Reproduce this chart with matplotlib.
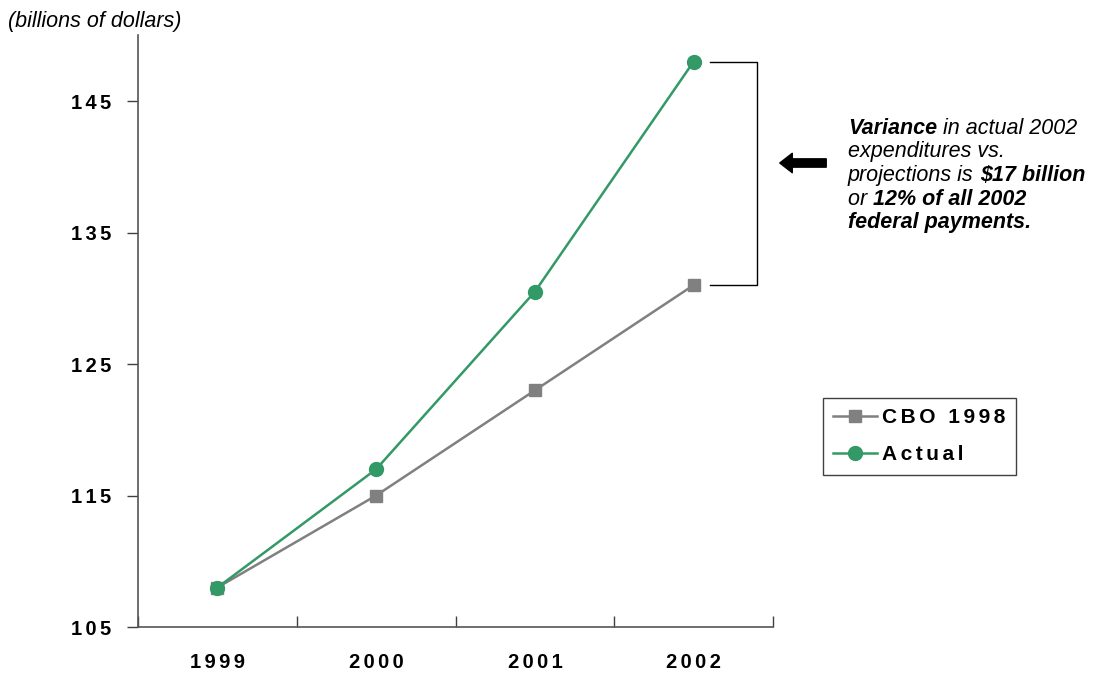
import matplotlib.pyplot as plt

plt.rcParams['font.family'] = ['Liberation Sans', 'DejaVu Sans']

years = ['1999', '2000', '2001', '2002']
cbo_1998 = [108, 115, 123, 131]
actual = [108, 117, 130.5, 148]
y_ticks = [105, 115, 125, 135, 145]

GREEN = '#339966'
GRAY = '#808080'


def spaced(s, sep='\u2006'):
    # widen the letter spacing a bit, like the old Excel charts
    return sep.join(s)


fig = plt.figure(figsize=[11.02, 6.74], dpi=100)
ax = fig.add_axes([0.1252, 0.0697, 0.5763, 0.878])

x = list(range(len(years)))
ax.plot(x, cbo_1998, color=GRAY, lw=1.8, marker='s', ms=8, label=spaced('CBO 1998'), zorder=3)
ax.plot(x, actual, color=GREEN, lw=1.8, marker='o', ms=10, label=spaced('Actual'), zorder=4)

ax.set_xlim(-0.5, len(years) - 0.5)
ax.set_ylim(105, 150)

# category ticks sit between the years, labels centred under each
ax.set_xticks([i - 0.5 for i in range(len(years) + 1)])
ax.set_xticklabels([])
ax.set_xticks(x, minor=True)
ax.set_xticklabels([spaced(y) for y in years], minor=True, fontsize=14.5, fontweight='bold')
ax.tick_params(axis='x', which='minor', length=0, pad=19)
ax.tick_params(axis='x', which='major', length=8, width=1, color='#404040', direction='in')
ax.set_yticks(y_ticks)
ax.set_yticklabels([spaced(str(v)) for v in y_ticks], fontsize=14.5, fontweight='bold')
ax.tick_params(axis='y', length=8, width=1, color='#404040', pad=11)

for s in ['top', 'right']:
    ax.spines[s].set_visible(False)
for s in ['left', 'bottom']:
    ax.spines[s].set_color('#555555')
    ax.spines[s].set_linewidth(1.2)

# bracket showing the 2002 gap
bx0, bx1 = 3.1, 3.4
ax.plot([bx0, bx1, bx1, bx0], [actual[-1], actual[-1], cbo_1998[-1], cbo_1998[-1]],
        color='black', lw=1, clip_on=False)

fig.text(8 / 1102, 1 - 21 / 674, '(billions of dollars)', fontsize=15.5, style='italic',
         va='center', ha='left')

# arrow pointing at the bracket
ax.annotate('', xy=(777, 674 - 163), xycoords='figure pixels',
            xytext=(829, 674 - 163), textcoords='figure pixels',
            arrowprops=dict(arrowstyle='simple,head_length=0.9,head_width=1.4,tail_width=0.6',
                            fc='black', ec='black'))

lines = [
    [('Variance', 'bold'), (' in actual 2002', 'normal')],
    [('expenditures vs.', 'normal')],
    [('projections is ', 'normal'), ('\\$17 billion', 'bold')],
    [('or ', 'normal'), ('12% of all 2002', 'bold')],
    [('federal payments.', 'bold')],
]
y0 = 134
for i, parts in enumerate(lines):
    prev = None
    for txt, weight in parts:
        kw = dict(fontsize=15.5, style='italic', fontweight=weight, ha='left')
        if prev is None:
            prev = fig.text(848 / 1102, 1 - (y0 + i * 23.5) / 674, txt, va='baseline', **kw)
        else:
            prev = ax.annotate(txt, xy=(1, 0), xycoords=prev, va='bottom', **kw)

leg = ax.legend(loc='upper left', bbox_to_anchor=(823 / 1102, 1 - 398 / 674),
                bbox_transform=fig.transFigure, fancybox=False, edgecolor='#404040',
                prop=dict(size=15, weight='bold'), handlelength=2.1, handletextpad=0.25,
                borderpad=0.5, labelspacing=0.85, borderaxespad=0, framealpha=1)
leg.get_frame().set_linewidth(1)

fig.savefig('out.png', dpi=100)
